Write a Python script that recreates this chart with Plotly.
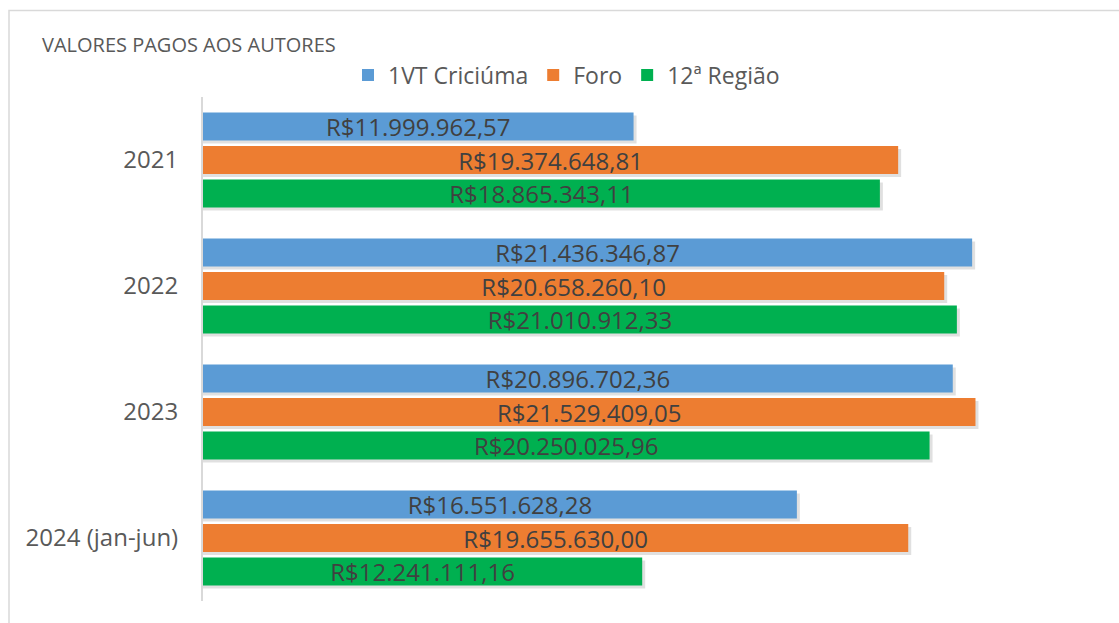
import plotly.graph_objects as go

categories = ["2021", "2022", "2023", "2024 (jan-jun)"]
series_names = ["1VT Criciúma", "Foro", "12ª Região"]
vt_criciuma = [11999962.57, 21436346.87, 20896702.36, 16551628.28]
foro = [19374648.81, 20658260.10, 21529409.05, 19655630.00]
regiao12 = [18865343.11, 21010912.33, 20250025.96, 12241111.16]
colors = ["#5b9bd5", "#ed7d31", "#00b050"]

W, H = 1119, 623
L, R, T, B = 203, 1100, 97, 601
XMAX = 25_000_000
PW, PH = R - L, B - T

def brl(v):
    s = f"{v:,.2f}"
    s = s.replace(",", "X").replace(".", ",").replace("X", ".")
    return "R$" + s

fig = go.Figure()
bar_w = 0.222
offsets = [-0.377, -0.111, 0.155]
shadow_dx = 3 * XMAX / PW
shadow_dy = 3 / PH * len(categories)

all_series = [vt_criciuma, foro, regiao12]
# soft shadows
for vals, off in zip(all_series, offsets):
    fig.add_trace(go.Bar(
        y=categories, x=[v + shadow_dx for v in vals], orientation="h",
        offset=off + shadow_dy, width=bar_w,
        marker=dict(color="rgba(0,0,0,0.12)", line=dict(width=0)),
        showlegend=False, hoverinfo="skip",
    ))
for name, vals, col, off in zip(series_names, all_series, colors, offsets):
    fig.add_trace(go.Bar(
        y=categories, x=vals, orientation="h", name=name,
        offset=off, width=bar_w,
        marker=dict(color=col, line=dict(width=0)),
        text=[brl(v) for v in vals], textposition="inside",
        insidetextanchor="middle", constraintext="none",
        textfont=dict(family="Open Sans", size=24, color="#404040"),
    ))

fig.update_layout(
    width=W, height=H,
    margin=dict(l=L, r=W - R, t=T, b=H - B),
    paper_bgcolor="white", plot_bgcolor="white",
    barmode="overlay",
    title=dict(text="VALORES PAGOS AOS AUTORES", x=42 / W, xref="container",
               xanchor="left", y=1 - 45 / H, yref="container", yanchor="middle",
               font=dict(family="Open Sans", size=20, color="#595959")),
    legend=dict(orientation="h", x=(348 - L) / PW, xanchor="left",
                y=(B - 75) / PH, yanchor="middle",
                font=dict(family="Open Sans", size=23, color="#595959"),
                itemwidth=30, traceorder="normal", bgcolor="rgba(0,0,0,0)"),
    xaxis=dict(range=[0, XMAX], visible=False, fixedrange=True),
    yaxis=dict(autorange="reversed", showline=True, linecolor="#d9d9d9", linewidth=2,
               ticks="outside", ticklen=18, tickcolor="rgba(0,0,0,0)",
               showgrid=False, tickfont=dict(family="Open Sans", size=24, color="#595959")),
    shapes=[dict(type="rect", xref="paper", yref="paper",
                 x0=(9 - L) / PW, x1=(1140 - L) / PW,
                 y0=(B - 660) / PH, y1=(B - 10.5) / PH,
                 line=dict(color="#d9d9d9", width=1.5), layer="below")],
    showlegend=True,
)

fig.write_html("out.html", config={"displayModeBar": False},
               post_script="document.body.style.margin='0';document.body.style.overflow='hidden';")
